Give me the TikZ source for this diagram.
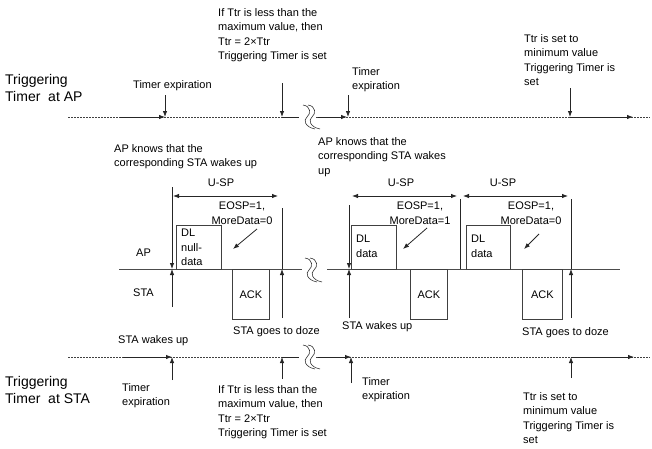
\documentclass[tikz,border=0pt]{standalone}
\usepackage{fontspec}
\setmainfont{Liberation Sans}
\usetikzlibrary{arrows.meta}
\begin{document}
\begin{tikzpicture}[x=1pt,y=-1pt,
  lbl/.style={inner sep=0pt, font=\fontsize{11}{14.5}\selectfont, align=left, text=black, anchor=north west},
  clbl/.style={inner sep=0pt, font=\fontsize{11}{14.5}\selectfont, align=center, text=black},
  big/.style={inner sep=0pt, font=\fontsize{14}{17.5}\selectfont, align=left, text=black, anchor=north west},
  ln/.style={line width=0.8pt, draw=black!85},
  arr/.style={ln, -{Latex[length=6pt,width=4.5pt]}},
  dbl/.style={ln, {Latex[length=6pt,width=4.5pt]}-{Latex[length=6pt,width=4.5pt]}},
  tl/.style={line width=0.6pt, draw=black!75, dash pattern=on 2pt off 1pt},
  boxn/.style={draw=black!75, line width=0.8pt, inner sep=0pt, anchor=north west},
  brk/.pic={
    \draw[line width=0.6pt, black!80] (-4,-12) .. controls (4,-11) and (4,-3) .. (0,0) .. controls (-4,3) and (-2,10) .. (8,12);
    \draw[line width=0.6pt, black!80] (1,-12) .. controls (9,-11) and (9,-3) .. (5,0) .. controls (1,3) and (3,10) .. (13,12);
  }
]
\useasboundingbox (0,0) rectangle (652,448);

% ---------- top timeline (AP) ----------
\coordinate (ta0) at (68,117);
\coordinate (ta1) at (298,117);
\coordinate (ta2) at (316,117);
\coordinate (ta3) at (650,117);
\draw[tl] (ta0) -- (ta1);
\draw[tl] (ta2) -- (ta3);
\coordinate (sa1) at (120,117); \coordinate (ea1) at (165,117);
\coordinate (sa2) at (282,117); \coordinate (ea2) at (299,117);
\coordinate (sa3) at (318,117); \coordinate (ea3) at (347,117);
\coordinate (sa4) at (570,117); \coordinate (ea4) at (633,117);
\draw[arr] (sa1) -- (ea1);
\draw[ln] (sa2) -- (ea2);
\draw[arr] (sa3) -- (ea3);
\draw[arr] (sa4) -- (ea4);
\pic at (307,117) {brk};

\node[big] (lap) at (5,74) {Triggering\\Timer \ at AP};
\node[lbl] (te1) at (133,80) {Timer expiration};
\node[lbl] (ift) at (218,8) {If Ttr is less than the\\maximum value, then\\Ttr = 2×Ttr\\Triggering Timer is set};
\node[lbl] (te2) at (352,67) {Timer\\expiration};
\node[lbl] (tmin) at (524,34) {Ttr is set to\\minimum value\\Triggering Timer is\\set};

\coordinate (va1) at (165,95);  \draw[arr] (va1) -- (ea1);
\coordinate (va2) at (282,83);  \coordinate (va2e) at (282,117); \draw[arr] (va2) -- (va2e);
\coordinate (va3) at (348,95);  \coordinate (va3e) at (348,117); \draw[arr] (va3) -- (va3e);
\coordinate (va4) at (570,88);  \draw[arr] (va4) -- (sa4);

% ---------- middle (AP / STA) ----------
\coordinate (m0) at (119,269); \coordinate (m1) at (302,269);
\coordinate (m2) at (327,269); \coordinate (m3) at (620,269);
\draw[line width=0.8pt, draw=black!70] (m0) -- (m1);
\draw[line width=0.8pt, draw=black!70] (m2) -- (m3);
\pic at (309,270) {brk};

\node[clbl, anchor=west] (apl) at (136,253) {AP};
\node[clbl, anchor=west] (stal) at (133,293) {STA};

\node[lbl] (kn1) at (114,144) {AP knows that the\\corresponding STA wakes up};
\node[lbl] (kn2) at (318,137) {AP knows that the\\corresponding STA wakes\\up};

% boxes
\node[boxn, minimum width=45pt, minimum height=44pt] (dl1) at (176,225) {};
\node[lbl] (dl1t) at (181,229) {DL\\null-\\data};
\node[boxn, minimum width=37pt, minimum height=50pt] (ack1) at (232,269) {};
\node[clbl] (ack1t) at (ack1.center) {ACK};
\node[boxn, minimum width=45pt, minimum height=44pt] (dl2) at (351,225) {};
\node[lbl] (dl2t) at (356,235) {DL\\data};
\node[boxn, minimum width=37pt, minimum height=50pt] (ack2) at (410,269) {};
\node[clbl] (ack2t) at (ack2.center) {ACK};
\node[boxn, minimum width=44pt, minimum height=44pt] (dl3) at (466,225) {};
\node[lbl] (dl3t) at (471,235) {DL\\data};
\node[boxn, minimum width=40pt, minimum height=50pt] (ack3) at (522,269) {};
\node[clbl] (ack3t) at (ack3.center) {ACK};

% vertical markers
\coordinate (w1t) at (172,187); \coordinate (w1m) at (172,269); \coordinate (w1b) at (172,307);
\draw[arr] (w1t) -- (w1m); \draw[arr] (w1b) -- (w1m);
\coordinate (d1t) at (282,208); \coordinate (d1m) at (282,269); \coordinate (d1b) at (282,318);
\draw[ln] (d1t) -- (d1m); \draw[arr] (d1b) -- (d1m);
\coordinate (w2t) at (349,205); \coordinate (w2m) at (349,269); \coordinate (w2b) at (349,318);
\draw[arr] (w2t) -- (w2m); \draw[arr] (w2b) -- (w2m);
\coordinate (s2t) at (460,199); \coordinate (s2m) at (460,269);
\draw[ln] (s2t) -- (s2m);
\coordinate (d2t) at (571,199); \coordinate (d2m) at (571,269); \coordinate (d2b) at (571,318);
\draw[ln] (d2t) -- (d2m); \draw[arr] (d2b) -- (d2m);

% U-SP
\coordinate (u1a) at (173,196); \coordinate (u1b) at (278,196);
\draw[dbl] (u1a) -- (u1b);
\node[clbl] (u1) at (221,183) {U-SP};
\coordinate (u2a) at (352,196); \coordinate (u2b) at (457,196);
\draw[dbl] (u2a) -- (u2b);
\node[clbl] (u2) at (401,183) {U-SP};
\coordinate (u3a) at (463,196); \coordinate (u3b) at (568,196);
\draw[dbl] (u3a) -- (u3b);
\node[clbl] (u3) at (503,183) {U-SP};

% EOSP labels
\node[clbl, anchor=north] (eo1) at (242,202) {EOSP=1,\\MoreData=0};
\node[clbl, anchor=north] (eo2) at (420,202) {EOSP=1,\\MoreData=1};
\node[clbl, anchor=north] (eo3) at (531,202) {EOSP=1,\\MoreData=0};
\coordinate (p1a) at (257,229); \coordinate (p1b) at (233,249); \draw[arr] (p1a) -- (p1b);
\coordinate (p2a) at (427,228); \coordinate (p2b) at (403,249); \draw[arr] (p2a) -- (p2b);
\coordinate (p3a) at (539,234); \coordinate (p3b) at (524,249); \draw[arr] (p3a) -- (p3b);

% STA state labels
\node[clbl, anchor=west] (sw1) at (118,341) {STA wakes up};
\node[clbl, anchor=west] (sg1) at (233,332) {STA goes to doze};
\node[clbl, anchor=west] (sw2) at (342,327) {STA wakes up};
\node[clbl, anchor=west] (sg2) at (522,333) {STA goes to doze};

% ---------- bottom timeline (STA) ----------
\coordinate (tb0) at (68,357);
\coordinate (tb1) at (298,357);
\coordinate (tb2) at (316,357);
\coordinate (tb3) at (650,357);
\draw[tl] (tb0) -- (tb1);
\draw[tl] (tb2) -- (tb3);
\coordinate (sb1) at (123,357); \coordinate (eb1) at (172,357);
\coordinate (sb2) at (282,357); \coordinate (eb2) at (299,357);
\coordinate (sb3) at (318,357); \coordinate (eb3) at (351,357);
\coordinate (sb4) at (571,357); \coordinate (eb4) at (634,357);
\draw[arr] (sb1) -- (eb1);
\draw[ln] (sb2) -- (eb2);
\draw[arr] (sb3) -- (eb3);
\draw[arr] (sb4) -- (eb4);
\pic at (307,357) {brk};

\coordinate (vb1) at (172,380); \draw[arr] (vb1) -- (eb1);
\coordinate (vb2) at (282,379); \draw[arr] (vb2) -- (sb2);
\coordinate (vb3) at (351,383); \draw[arr] (vb3) -- (eb3);
\coordinate (vb4) at (571,378); \draw[arr] (vb4) -- (sb4);

\node[big] (lsta) at (5,376) {Triggering\\Timer \ at STA};
\node[lbl] (tb1t) at (122,383) {Timer\\expiration};
\node[lbl] (iftb) at (218,385) {If Ttr is less than the\\maximum value, then\\Ttr = 2×Ttr\\Triggering Timer is set};
\node[lbl] (tb2t) at (362,377) {Timer\\expiration};
\node[lbl] (tminb) at (523,392) {Ttr is set to\\minimum value\\Triggering Timer is\\set};
\end{tikzpicture}
\end{document}
